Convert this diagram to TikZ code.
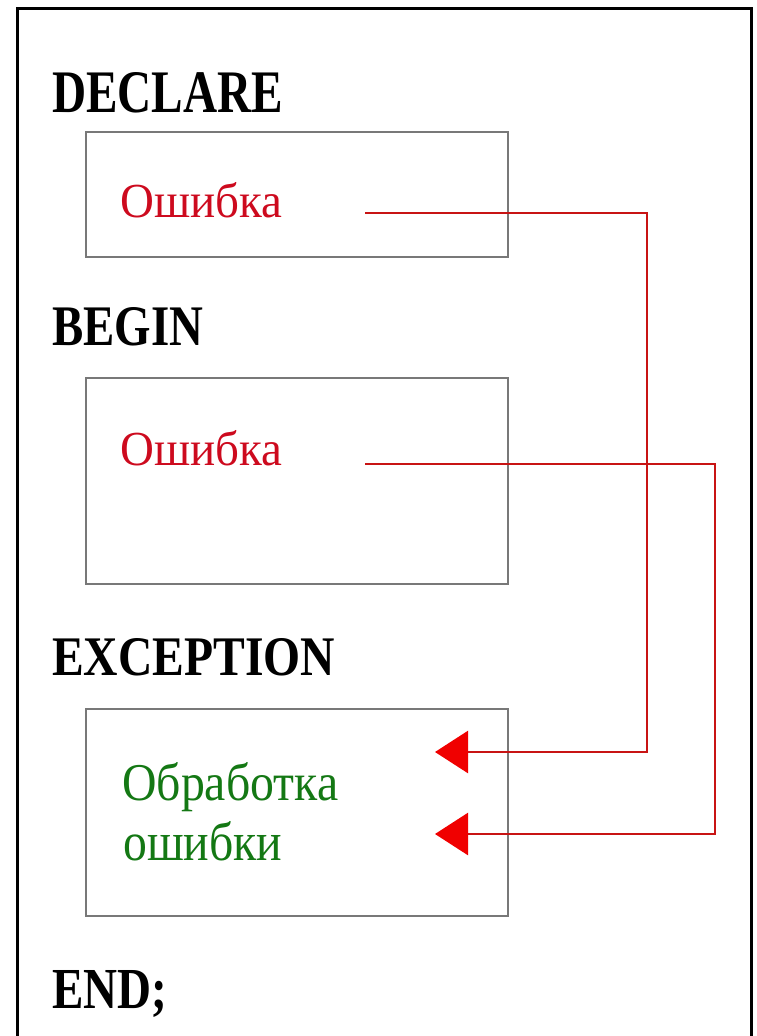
\documentclass[tikz,border=0pt]{standalone}
\usepackage{fontspec}
\setmainfont{Liberation Serif}
\usepackage{graphicx}
\usetikzlibrary{arrows.meta}
\definecolor{boxgray}{RGB}{120,120,120}
\definecolor{linered}{RGB}{200,20,20}
\definecolor{textred}{RGB}{205,10,30}
\definecolor{tipred}{RGB}{240,0,0}
\definecolor{textgreen}{RGB}{20,120,20}
\tikzset{
  graybox/.style={draw=boxgray, line width=2pt, inner sep=0pt},
  kw/.style={anchor=base west, inner sep=0pt, text=black},
  errtxt/.style={anchor=base west, inner sep=0pt, text=textred},
  handtxt/.style={anchor=base west, inner sep=0pt, text=textgreen},
  flow/.style={draw=linered, line width=2.6pt, -{Triangle[length=33pt, width=42pt, color=tipred]}},
}
\begin{document}
\begin{tikzpicture}[x=1pt, y=-1pt]
\useasboundingbox (0,0) rectangle (756,1036);
% outer frame
\draw[line width=3pt, black] (17,1036) -- (17,8) -- (751,8) -- (751,1036);
% boxes
\node[graybox, minimum width=422pt, minimum height=125pt] (b1) at (297,194.5) {};
\node[graybox, minimum width=422pt, minimum height=206pt] (b2) at (297,481) {};
\node[graybox, minimum width=422pt, minimum height=207pt] (b3) at (297,812.5) {};
% keywords
\node[kw] (declare) at (52,112) {\resizebox{231pt}{40pt}{\textbf{DECLARE}}};
\node[kw] (begin) at (52,345) {\resizebox{151pt}{38pt}{\textbf{BEGIN}}};
\node[kw] (exception) at (52,675) {\resizebox{283pt}{37pt}{\textbf{EXCEPTION}}};
\node[kw] (end) at (52,1008) {\resizebox{115pt}{38pt}{\textbf{END;}}};
% texts
\node[errtxt] (err1) at (120,217) {\resizebox{162pt}{35pt}{Ошибка}};
\node[errtxt] (err2) at (120,465) {\resizebox{162pt}{35pt}{Ошибка}};
\node[handtxt] (hand1) at (122,800) {\resizebox{216pt}{38pt}{Обработка}};
\node[handtxt] (hand2) at (123,860) {\resizebox{159pt}{39pt}{ошибки}};
% connectors
\coordinate (s1) at (365,213);
\coordinate (t1) at (435,752);
\coordinate (s2) at (365,464);
\coordinate (t2) at (435,834);
\draw[flow] (s1) -- (647,213) |- (t1);
\draw[flow] (s2) -- (715,464) |- (t2);
\end{tikzpicture}
\end{document}
